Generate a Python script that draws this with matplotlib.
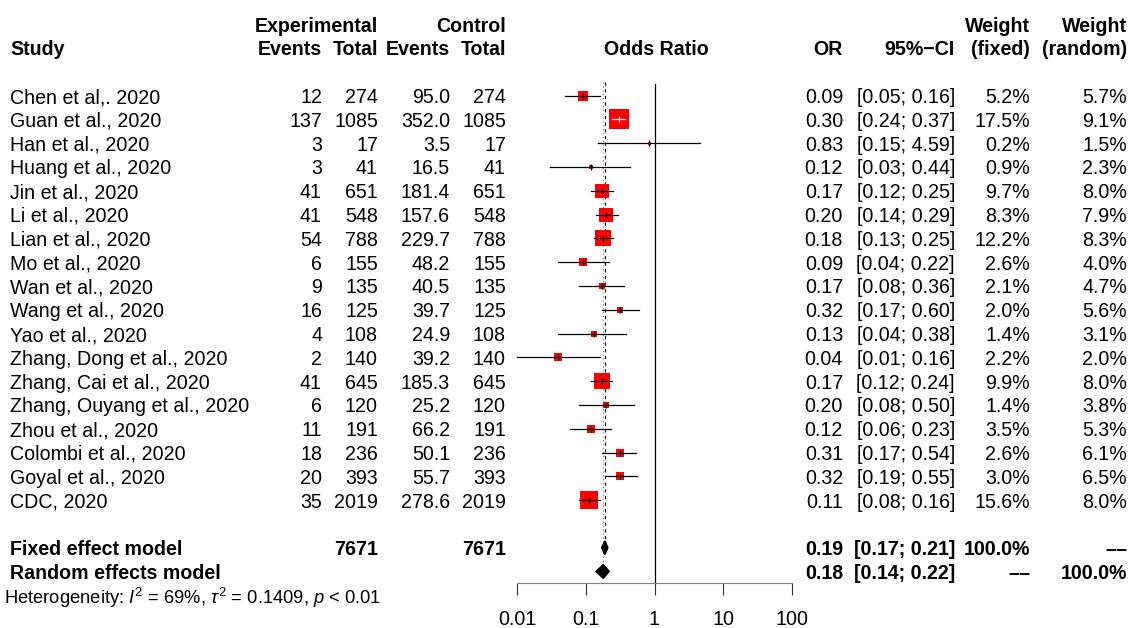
import numpy as np
import matplotlib
matplotlib.use("Agg")
import matplotlib.pyplot as plt

plt.rcParams['font.family'] = ['Liberation Sans', 'DejaVu Sans']
plt.rcParams['mathtext.fontset'] = 'custom'
plt.rcParams['mathtext.rm'] = 'Liberation Sans'
plt.rcParams['mathtext.it'] = 'Liberation Sans:italic'

# data
studies = ["Chen et al,. 2020", "Guan et al., 2020", "Han et al., 2020", "Huang et al., 2020",
           "Jin et al., 2020", "Li et al., 2020", "Lian et al., 2020", "Mo et al., 2020",
           "Wan et al., 2020", "Wang et al., 2020", "Yao et al., 2020", "Zhang, Dong et al., 2020",
           "Zhang, Cai et al., 2020", "Zhang, Ouyang et al., 2020", "Zhou et al., 2020",
           "Colombi et al., 2020", "Goyal et al., 2020", "CDC, 2020"]
exp_events = [12, 137, 3, 3, 41, 41, 54, 6, 9, 16, 4, 2, 41, 6, 11, 18, 20, 35]
exp_total = [274, 1085, 17, 41, 651, 548, 788, 155, 135, 125, 108, 140, 645, 120, 191, 236, 393, 2019]
ctrl_events = [95.0, 352.0, 3.5, 16.5, 181.4, 157.6, 229.7, 48.2, 40.5, 39.7, 24.9, 39.2, 185.3, 25.2,
               66.2, 50.1, 55.7, 278.6]
ctrl_total = exp_total
odds = [0.09, 0.30, 0.83, 0.12, 0.17, 0.20, 0.18, 0.09, 0.17, 0.32, 0.13, 0.04, 0.17, 0.20, 0.12, 0.31, 0.32, 0.11]
ci_lo = [0.05, 0.24, 0.15, 0.03, 0.12, 0.14, 0.13, 0.04, 0.08, 0.17, 0.04, 0.01, 0.12, 0.08, 0.06, 0.17, 0.19, 0.08]
ci_hi = [0.16, 0.37, 4.59, 0.44, 0.25, 0.29, 0.25, 0.22, 0.36, 0.60, 0.38, 0.16, 0.24, 0.50, 0.23, 0.54, 0.55, 0.16]
w_fixed = [5.2, 17.5, 0.2, 0.9, 9.7, 8.3, 12.2, 2.6, 2.1, 2.0, 1.4, 2.2, 9.9, 1.4, 3.5, 2.6, 3.0, 15.6]
w_random = [5.7, 9.1, 1.5, 2.3, 8.0, 7.9, 8.3, 4.0, 4.7, 5.6, 3.1, 2.0, 8.0, 3.8, 5.3, 6.1, 6.5, 8.0]

fixed_or, fixed_lo, fixed_hi = 0.19, 0.17, 0.21
rand_or, rand_lo, rand_hi = 0.18, 0.14, 0.22
n_total = 7671
ticks = [0.01, 0.1, 1, 10, 100]
tick_labels = ["0.01", "0.1", "1", "10", "100"]

W, H = 1129, 628
fs = 14.1
row_h = 23.8
top_row = 95.5
ylims = ((H - top_row) / row_h, -top_row / row_h)
axis_row = (583 - top_row) / row_h

fig = plt.figure(figsize=(W / 100, H / 100), dpi=100)
ax = fig.add_axes([0, 0, 1, 1])
ax.set_xlim(0, W)
ax.set_ylim(*ylims)
ax.axis('off')

# forest panel (log scale)
x0, x1 = 517, 792
ax2 = fig.add_axes([x0 / W, 0, (x1 - x0) / W, 1])
ax2.set_xscale('log')
ax2.set_xlim(0.01, 100)
ax2.set_ylim(*ylims)
ax2.patch.set_visible(False)
for s in ['top', 'left', 'right']:
    ax2.spines[s].set_visible(False)
ax2.spines['bottom'].set_position(('data', axis_row))
ax2.spines['bottom'].set_color('#808080')
ax2.set_yticks([])
ax2.set_xticks(ticks)
ax2.set_xticklabels(tick_labels, fontsize=fs)
ax2.minorticks_off()
ax2.tick_params(axis='x', length=8.6, width=0.8, pad=11, color='#333333')

kw = dict(fontsize=fs, va='center_baseline')
bold = dict(fontsize=fs, va='center_baseline', fontweight='bold')

# headers
ax.text(10, -2, "Study", ha='left', **bold)
ax.text(378, -3, "Experimental", ha='right', **bold)
ax.text(506, -3, "Control", ha='right', **bold)
ax.text(322, -2, "Events", ha='right', **bold)
ax.text(378, -2, "Total", ha='right', **bold)
ax.text(450, -2, "Events", ha='right', **bold)
ax.text(506, -2, "Total", ha='right', **bold)
ax.text(656, -2, "Odds Ratio", ha='center', **bold)
ax.text(843, -2, "OR", ha='right', **bold)
ax.text(955, -2, "95%\u2212CI", ha='right', **bold)
ax.text(1030, -3, "Weight", ha='right', **bold)
ax.text(1030, -2, "(fixed)", ha='right', **bold)
ax.text(1127, -3, "Weight", ha='right', **bold)
ax.text(1127, -2, "(random)", ha='right', **bold)

rows = np.arange(len(studies))
for i, r in enumerate(rows):
    ax.text(10, r, studies[i], ha='left', **kw)
    ax.text(322, r, f"{exp_events[i]}", ha='right', **kw)
    ax.text(378, r, f"{exp_total[i]}", ha='right', **kw)
    ax.text(450, r, f"{ctrl_events[i]:.1f}", ha='right', **kw)
    ax.text(506, r, f"{ctrl_total[i]}", ha='right', **kw)
    ax.text(843, r, f"{odds[i]:.2f}", ha='right', **kw)
    ax.text(955, r, f"[{ci_lo[i]:.2f}; {ci_hi[i]:.2f}]", ha='right', **kw)
    ax.text(1030, r, f"{w_fixed[i]:.1f}%", ha='right', **kw)
    ax.text(1127, r, f"{w_random[i]:.1f}%", ha='right', **kw)

    side_px = max(20 * np.sqrt(w_fixed[i] / 17.5), 3)
    ax2.plot(odds[i], r, marker='s', markersize=side_px * 0.72, color='#ff0000',
             markeredgewidth=0, zorder=3, clip_on=False)
    inside = side_px / 2 / 68.5
    col = 'white' if (np.log10(odds[i]) - np.log10(ci_lo[i]) < inside and
                      np.log10(ci_hi[i]) - np.log10(odds[i]) < inside) else 'black'
    ax2.plot([ci_lo[i], ci_hi[i]], [r, r], color=col, lw=0.9, zorder=4, clip_on=False)
    ax2.plot(odds[i], r, marker='|', markersize=4, color=col, markeredgewidth=0.9, zorder=4)

# summary rows
r_fix, r_ran, r_het = len(studies) + 1, len(studies) + 2, len(studies) + 3
ax.text(10, r_fix, "Fixed effect model", ha='left', **bold)
ax.text(378, r_fix, f"{n_total}", ha='right', **bold)
ax.text(506, r_fix, f"{n_total}", ha='right', **bold)
ax.text(843, r_fix, f"{fixed_or:.2f}", ha='right', **bold)
ax.text(955, r_fix, f"[{fixed_lo:.2f}; {fixed_hi:.2f}]", ha='right', **bold)
ax.text(1030, r_fix, "100.0%", ha='right', **bold)
ax.text(1127, r_fix, "\u2013\u2013", ha='right', **bold)

ax.text(10, r_ran, "Random effects model", ha='left', **bold)
ax.text(843, r_ran, f"{rand_or:.2f}", ha='right', **bold)
ax.text(955, r_ran, f"[{rand_lo:.2f}; {rand_hi:.2f}]", ha='right', **bold)
ax.text(1030, r_ran, "\u2013\u2013", ha='right', **bold)
ax.text(1127, r_ran, "100.0%", ha='right', **bold)

ax.text(4, r_het, r"Heterogeneity: $I^2$ = 69%, $\tau^2$ = 0.1409, $p$ < 0.01",
        ha='left', fontsize=13.2, va='center_baseline')

# diamonds
dh = 0.29
for est, lo, hi, r in [(fixed_or, fixed_lo, fixed_hi, r_fix), (rand_or, rand_lo, rand_hi, r_ran)]:
    ax2.fill([lo, est, hi, est], [r, r - dh, r, r + dh], color='black', zorder=4)

# reference lines
ax2.plot([1, 1], [-0.5, axis_row], color='black', lw=0.9, zorder=2)
ax2.plot([fixed_or, fixed_or], [-0.55, r_fix], color='black', lw=0.8, ls=(0, (3, 3)), zorder=2)
ax2.plot([rand_or, rand_or], [-0.55, r_ran], color='#777777', lw=0.8, ls=(0, (1, 2.5)), zorder=2)

fig.savefig("out.png", dpi=100)
